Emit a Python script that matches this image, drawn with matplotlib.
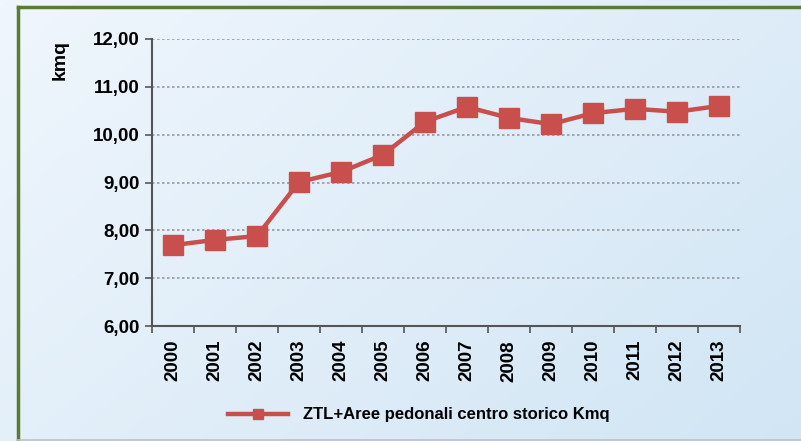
import numpy as np
import matplotlib.pyplot as plt
from matplotlib.lines import Line2D

years = ["2000", "2001", "2002", "2003", "2004", "2005", "2006",
         "2007", "2008", "2009", "2010", "2011", "2012", "2013"]
kmq = [7.69, 7.80, 7.88, 9.01, 9.22, 9.58, 10.27,
       10.58, 10.35, 10.22, 10.45, 10.54, 10.48, 10.60]
series_name = "ZTL+Aree pedonali centro storico Kmq"
yticks = [6, 7, 8, 9, 10, 11, 12]

red = "#c84f4c"
plt.rcParams["font.family"] = ["Liberation Sans", "DejaVu Sans"]

fig = plt.figure(figsize=(8.01, 4.41), dpi=100)

# gradient background
bg = fig.add_axes([0, 0, 1, 1])
gx, gy = np.meshgrid(np.linspace(0, 1, 200), np.linspace(0, 1, 200))
t = (gx * 0.6 + gy * 0.4)
c0 = np.array([0.94, 0.965, 0.99])
c1 = np.array([0.82, 0.90, 0.96])
img = c0[None, None, :] * (1 - t[..., None]) + c1[None, None, :] * t[..., None]
bg.imshow(img, extent=[0, 1, 0, 1], aspect="auto", origin="upper")
bg.set_xlim(0, 1)
bg.set_ylim(0, 1)
bg.axis("off")
# olive frame on left and top
bg.plot([17.5 / 801, 17.5 / 801], [1 - 6.5 / 441, 0], color="#5b7a32", lw=2.5)
bg.plot([17.5 / 801, 1], [1 - 6.5 / 441, 1 - 6.5 / 441], color="#5b7a32", lw=2.5)
bg.plot([17.5 / 801, 1], [1.5 / 441, 1.5 / 441], color="#b9c4cc", lw=1.2)

ax = fig.add_axes([152 / 801, 115 / 441, 588 / 801, 287 / 441])
ax.set_facecolor("none")
x = np.arange(len(years))
ax.plot(x, kmq, color=red, lw=3.2, marker="s", markersize=14.5,
        markerfacecolor=red, markeredgecolor=red, zorder=3)

ax.set_xlim(-0.5, len(years) - 0.5)
ax.set_ylim(6, 12)
ax.set_yticks(yticks)
ax.set_yticklabels([f"{v:.2f}".replace(".", ",") for v in yticks],
                   fontsize=13.5, fontweight="bold")
ax.set_xticks(x)
ax.set_xticklabels(years, rotation=90, fontsize=13.5, fontweight="bold")
ax.set_xticks(np.arange(len(years) + 1) - 0.5, minor=True)
ax.tick_params(axis="x", which="major", length=0, pad=10)
ax.tick_params(axis="x", which="minor", length=5, width=1.2, color="#555555", direction="out")
ax.tick_params(axis="y", length=5, width=1.2, color="#555555", pad=4)
ax.grid(axis="y", linestyle=(0, (1.5, 1.5)), color="#999999", lw=1.2)
for s in ["top", "right"]:
    ax.spines[s].set_visible(False)
ax.spines["left"].set_color("#555555")
ax.spines["bottom"].set_color("#555555")
ax.spines["left"].set_linewidth(1.5)
ax.spines["bottom"].set_linewidth(1.5)

fig.text(60 / 801, 1 - 60 / 441, "kmq", rotation=90, fontsize=14,
         fontweight="bold", ha="center", va="center")

handle = Line2D([], [], color=red, lw=3.2, marker="s", markersize=7,
                markerfacecolor=red, markeredgecolor=red)
fig.legend([handle], [series_name], loc="center", bbox_to_anchor=(419 / 801, 1 - 415 / 441),
           frameon=False, prop={"weight": "bold", "size": 12}, handlelength=3.6,
           handletextpad=0.9)

fig.savefig("out.png", dpi=100)
